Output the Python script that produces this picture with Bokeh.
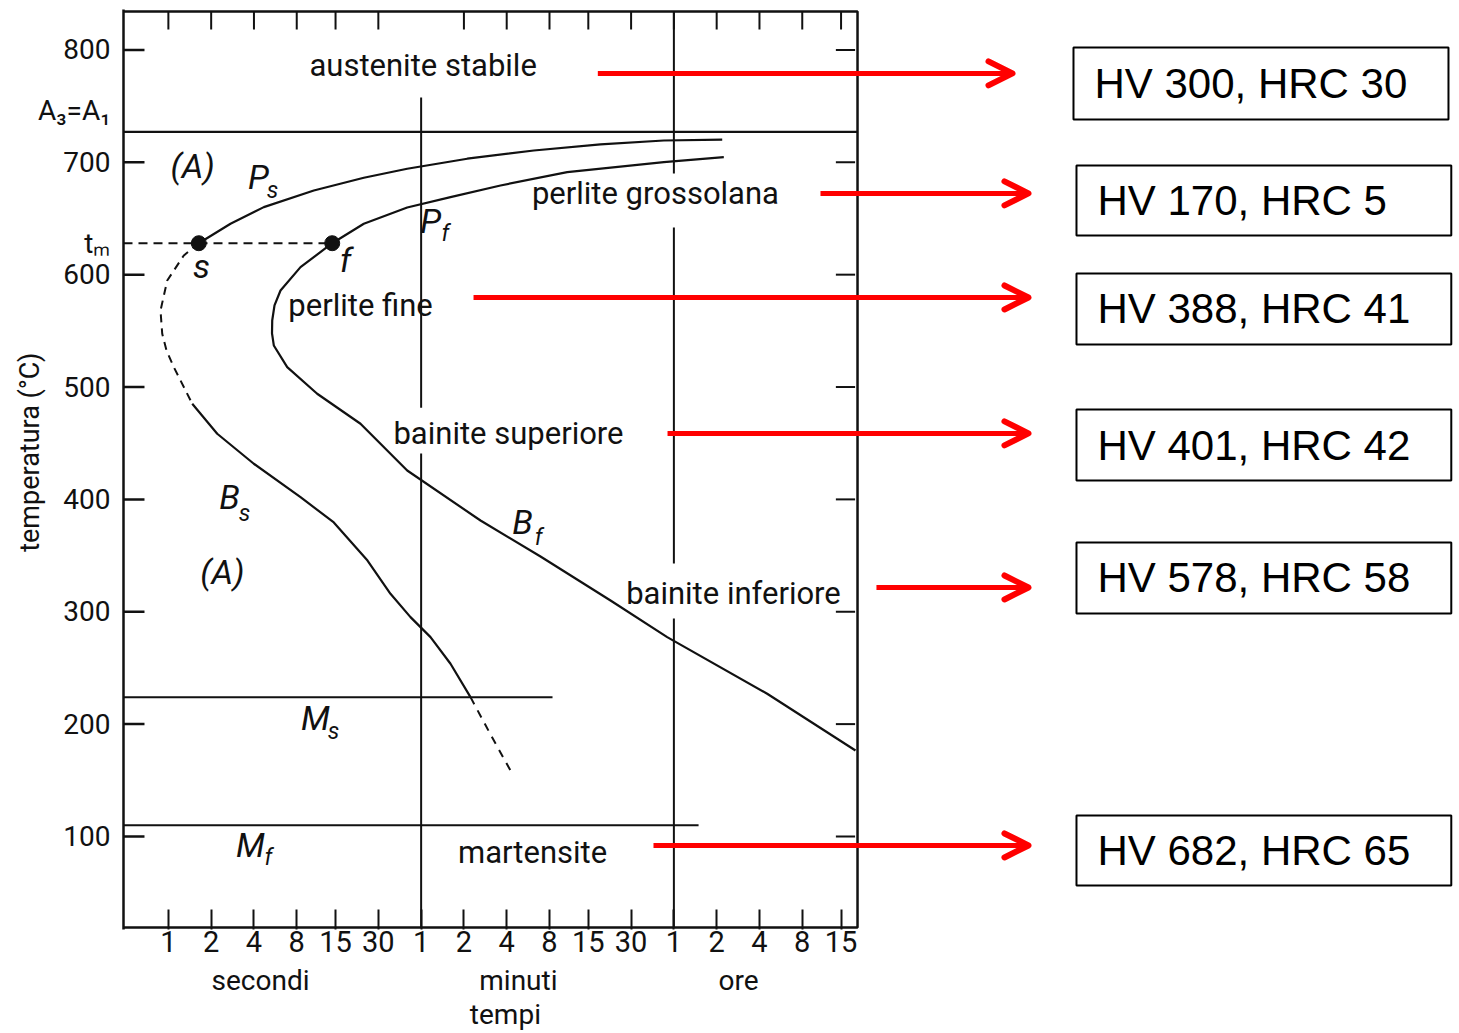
import math
from bokeh.plotting import figure
from bokeh.models import (Range1d, FixedTicker, Arrow, OpenHead, ColumnDataSource,
                          LogAxis, LinearAxis)
from bokeh.embed import file_html
from bokeh.resources import INLINE
from bokeh.core.properties import value

# ---------------- data ----------------
# time axis ticks (seconds) and their printed labels
time_ticks = [1, 2, 4, 8, 15, 30, 60, 120, 240, 480, 900, 1800, 3600, 7200, 14400, 28800, 54000]
time_tick_labels = ["1", "2", "4", "8", "15", "30", "1", "2", "4", "8", "15", "30", "1", "2", "4", "8", "15"]
unit_ticks = [4.45, 290, 10250]          # centre of each unit group (s)
unit_names = ["secondi", "minuti", "ore"]
time_title_tick = 235
time_title = "tempi"
temp_ticks = [100, 200, 300, 400, 500, 600, 700, 800]
temp_title_tick = 448
temp_title = "temperatura   (°C)"

# characteristic temperatures (°C)
A1_temp = 727
A1_label_temp = 746
tm_temp = 628
ms_temp = 224
mf_temp = 110
ms_end_time = 504      # s, where the Ms line stops
mf_end_time = 5370     # s, where the Mf line stops

# marked points s and f at t_m
point_time = [1.637, 14.21]
point_temp = [628, 628]

# pearlite start curve Ps (s -> right)
ps_time = [1.637, 2.736, 4.693, 10.55, 23.71, 47.88, 126.6, 372.2, 1096, 3058, 7876]
ps_temp = [628.0, 645.3, 660.1, 674.9, 686.3, 694.3, 703.2, 710.5, 715.9, 719.4, 720.1]

# finish curve Pf / Bf
finish_time = [8082, 3058, 639.3, 217.0, 96.56, 47.88, 23.71, 14.21, 8.503, 6.150, 5.580,
               5.377, 5.359, 5.518, 6.855, 11.14, 22.47, 47.88, 157.0, 414.9, 1290, 3231,
               16320, 68220]
finish_temp = [704.6, 700.1, 691.2, 679.4, 669.0, 659.8, 645.3, 628.0, 606.7, 585.9, 572.6,
               559.2, 547.7, 537.0, 517.7, 494.0, 467.3, 425.7, 381.2, 349.2, 310.0, 277.4,
               227.0, 176.5]

# start curve below t_m: dashed nose, solid Bs, dashed below Ms
bs_nose_time = [1.637, 1.284, 0.9814, 0.8804, 0.9051, 0.9703, 1.092, 1.472]
bs_nose_temp = [628.0, 617.1, 594.8, 568.1, 547.4, 532.5, 517.7, 485.1]
bs_time = [1.472, 2.206, 3.991, 8.503, 14.58, 25.17, 36.52, 50.50, 69.84, 96.56, 133.5]
bs_temp = [485.1, 458.4, 431.7, 402.0, 379.5, 345.6, 316.0, 295.2, 277.4, 253.7, 224.0]
bs_low_time = [133.5, 184.6, 255.2]
bs_low_temp = [224.0, 190.8, 158.7]

# long vertical guide lines (1 minute, 1 hour) with gaps left for the labels
guide_time = [60, 60, 3600, 3600, 3600]
guide_top = [757.7, 440.9, 834.3, 642.0, 294.0]
guide_bottom = [481.6, 19.0, 690.0, 343.0, 19.0]

# hardness of each structure
hardness_labels = ["HV 300, HRC 30", "HV 170, HRC 5", "HV 388, HRC 41",
                   "HV 401, HRC 42", "HV 578, HRC 58", "HV 682, HRC 65"]

# ---------------- layout constants ----------------
X_START, X_END = 0.4834, 1.211e9
Y_START, Y_END = 17.2, 836.0
BOX_RIGHT = 70500
BOX_TOP = 834.3
BOX_BOTTOM = 19.0
TICK_FACTOR = 1.405      # 21 px along the log time axis

FONT = value("Roboto")
INK = "#111111"
RED = "#ff0000"

p = figure(width=1459, height=1033, x_axis_type="log",
           x_range=Range1d(X_START, X_END), y_range=Range1d(Y_START, Y_END),
           min_border_left=123, min_border_right=0, min_border_top=9, min_border_bottom=104,
           output_backend="svg", toolbar_location=None, title=None)
p.outline_line_color = None
p.xgrid.visible = False
p.ygrid.visible = False
p.background_fill_color = "white"
p.border_fill_color = "white"

# y axis = left edge of the diagram, labels incl. A3=A1 and t_m
p.yaxis.ticker = FixedTicker(ticks=temp_ticks + [tm_temp, A1_label_temp])
p.yaxis.major_label_overrides = {tm_temp: "tₘ", A1_label_temp: "A₃=A₁"}
p.yaxis.axis_line_width = 2.5
p.yaxis.axis_line_color = INK
p.yaxis.major_tick_line_color = None
p.yaxis.minor_tick_line_color = None
p.yaxis.major_label_standoff = 7
p.yaxis.major_label_text_font = "Roboto"
p.yaxis.major_label_text_font_size = "28px"
p.yaxis.major_label_text_color = INK

# second left axis carrying the axis title at its place
ytitle = LinearAxis(ticker=FixedTicker(ticks=[temp_title_tick]),
                    major_label_overrides={temp_title_tick: temp_title},
                    major_label_orientation="vertical", axis_line_color=None,
                    major_tick_line_color=None, minor_tick_line_color=None,
                    major_label_standoff=-17, major_label_text_font="Roboto",
                    major_label_text_font_size="27px", major_label_text_color=INK)
p.add_layout(ytitle, "left")

# x axis: ticks and numbers
p.xaxis.ticker = FixedTicker(ticks=time_ticks)
p.xaxis.major_label_overrides = {t: lab for t, lab in zip(time_ticks, time_tick_labels)}
p.xaxis.axis_line_color = None
p.xaxis.major_tick_in = 20
p.xaxis.major_tick_out = 0
p.xaxis.major_tick_line_width = 2
p.xaxis.major_tick_line_color = INK
p.xaxis.minor_tick_line_color = None
p.xaxis.major_label_standoff = 1
p.xaxis.major_label_text_font = "Roboto"
p.xaxis.major_label_text_font_size = "29px"
p.xaxis.major_label_text_color = INK

def text_axis(ticks, labels, standoff):
    ax = LogAxis(ticker=FixedTicker(ticks=ticks),
                 major_label_overrides={t: l for t, l in zip(ticks, labels)},
                 axis_line_color=None, major_tick_line_color=None, minor_tick_line_color=None,
                 major_label_standoff=standoff, major_label_text_font="Roboto",
                 major_label_text_font_size="28px", major_label_text_color=INK)
    p.add_layout(ax, "below")

text_axis(unit_ticks, unit_names, 3)
text_axis([time_title_tick], [time_title], -8)

# diagram box (top, right, bottom edges)
p.line([X_START, BOX_RIGHT, BOX_RIGHT, X_START], [BOX_TOP, BOX_TOP, BOX_BOTTOM, BOX_BOTTOM],
       line_color=INK, line_width=2.5)

# left ticks
p.segment(x0=[X_START] * len(temp_ticks), x1=[X_START * TICK_FACTOR] * len(temp_ticks),
          y0=temp_ticks, y1=temp_ticks, line_color=INK, line_width=2.5)
# top ticks (no tick at 1 minute)
top_ticks = [t for t in time_ticks if t != 60]
p.segment(x0=top_ticks, x1=top_ticks, y0=[BOX_TOP] * len(top_ticks),
          y1=[BOX_TOP - 16] * len(top_ticks), line_color=INK, line_width=2)
# right-edge ticks
p.segment(x0=[BOX_RIGHT / 1.42] * len(temp_ticks), x1=[BOX_RIGHT / 1.04] * len(temp_ticks),
          y0=temp_ticks, y1=temp_ticks, line_color=INK, line_width=2)

# horizontal reference lines
p.segment(x0=[X_START], x1=[BOX_RIGHT], y0=[A1_temp], y1=[A1_temp], line_color=INK, line_width=2.2)
p.segment(x0=[X_START, X_START], x1=[ms_end_time, mf_end_time], y0=[ms_temp, mf_temp],
          y1=[ms_temp, mf_temp], line_color=INK, line_width=2)
p.segment(x0=[X_START], x1=[point_time[1]], y0=[tm_temp], y1=[tm_temp],
          line_color=INK, line_width=2, line_dash="9 6")

# 1 min / 1 h guide lines
p.segment(x0=guide_time, x1=guide_time, y0=guide_top, y1=guide_bottom, line_color=INK, line_width=2)

# curves
p.line(ps_time, ps_temp, line_color=INK, line_width=2.2)
p.line(finish_time, finish_temp, line_color=INK, line_width=2.2)
p.line(bs_nose_time, bs_nose_temp, line_color=INK, line_width=2, line_dash="8 6")
p.line(bs_time, bs_temp, line_color=INK, line_width=2.2)
p.line(bs_low_time, bs_low_temp, line_color=INK, line_width=2, line_dash="8 7")
p.scatter(point_time, point_temp, size=15, marker="circle", fill_color=INK, line_color=INK)

# region labels (upright)
reg_x = [62, 22.5, 2670, 247, 9450, 365]
reg_y = [786, 573, 672, 459, 316, 86]
reg_t = ["austenite stabile", "perlite fine", "perlite grossolana", "bainite superiore",
         "bainite inferiore", "martensite"]
p.text(reg_x, reg_y, text=reg_t, text_font=FONT, text_font_size="31px", text_color=INK,
       text_align="center", text_baseline="middle")

# italic symbols
it_x = [1.48, 2.40, 4.3, 70, 2.69, 310, 10.8, 3.78, 1.71, 17.6]
it_y = [697, 335, 687, 648, 402, 380, 205, 92, 608, 613]
it_t = ["(A)", "(A)", "P", "P", "B", "B", "M", "M", "s", "f"]
p.text(it_x, it_y, text=it_t, text_font=FONT, text_font_size="34px", text_color=INK,
       text_font_style="italic", text_align="center", text_baseline="middle")
sub_x = [5.4, 89, 3.43, 402, 14.5, 5.06]
sub_y = [675, 637, 387, 366, 193, 81]
sub_t = ["s", "f", "s", "f", "s", "f"]
p.text(sub_x, sub_y, text=sub_t, text_font=FONT, text_font_size="23px", text_color=INK,
       text_font_style="italic", text_align="center", text_baseline="middle")

# hardness boxes
box_left = [2.331e6, 2.447e6, 2.447e6, 2.447e6, 2.447e6, 2.447e6]
box_right = [1.013e9, 1.06e9, 1.06e9, 1.06e9, 1.06e9, 1.06e9]
box_top = [802.2, 697.2, 601.1, 480.0, 361.7, 118.7]
box_bottom = [738.1, 634.9, 537.9, 416.8, 298.5, 56.4]
p.quad(left=box_left, right=box_right, top=box_top, bottom=box_bottom,
       fill_color="white", line_color="black", line_width=2)
p.text([l * 1.405 for l in box_left], [(a + b) / 2 for a, b in zip(box_top, box_bottom)],
       text=hardness_labels, text_font=value("Liberation Sans"), text_font_size="42px",
       text_color="black", text_align="left", text_baseline="middle")

# red arrows from structures to hardness boxes
arrows = ColumnDataSource(dict(
    x0=[1050, 38690, 140.2, 3248, 95800, 2587],
    x1=[8.68e5, 1.124e6, 1.124e6, 1.124e6, 1.124e6, 1.124e6],
    y=[779.1, 672.3, 579.7, 458.7, 321.6, 92.0],
))
p.add_layout(Arrow(source=arrows, x_start="x0", y_start="y", x_end="x1", y_end="y",
                   line_color=RED, line_width=5,
                   end=OpenHead(size=24, line_color=RED, line_width=6,
                                line_cap="round", line_join="round")))

open("out.html", "w").write(file_html(p, INLINE))
